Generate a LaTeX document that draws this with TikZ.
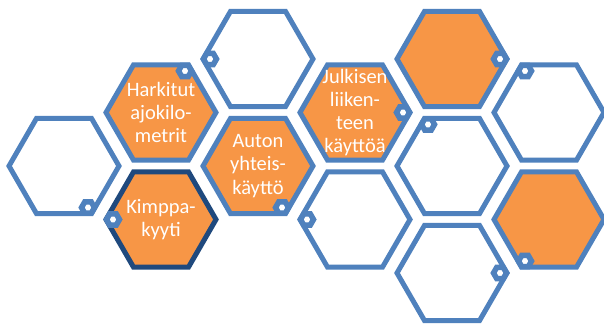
\documentclass[tikz,border=0pt]{standalone}
\usepackage{fontspec}
\setmainfont{Carlito}
\usetikzlibrary{shapes.geometric,calc}

\definecolor{hexblue}{HTML}{4F81BD}
\definecolor{hexdark}{HTML}{1F497D}
\definecolor{hexorange}{HTML}{F79646}

\begin{document}
\begin{tikzpicture}[x=1pt,y=1pt,
    hex/.style={regular polygon, regular polygon sides=6, minimum size=110pt,
      inner sep=0pt, line width=5pt, draw=hexblue, fill=white},
    hexfull/.style={hex, fill=hexorange},
    knob/.style={regular polygon, regular polygon sides=6, minimum size=13pt,
      inner sep=0pt, line width=5.5pt, draw=hexblue, fill=white},
    hexlabel/.style={text=white, align=center, inner sep=0pt,
      font=\fontsize{20.5}{23.3}\selectfont}]
  \useasboundingbox (0,0) rectangle (604,327);
  % Cluster of big hexagons
  \node[hex] (left) at (64,161) {};
  \node[hexfull] (harkitut) at (161,214.5) {};
  \node[hexfull, draw=hexdark] (kimppa) at (161,107.5) {};
  \node[hex] (top) at (258,268) {};
  \node[hexfull] (auton) at (258,161) {};
  \node[hexfull] (julkisen) at (355,214.5) {};
  \node[hex] (low) at (355,107.5) {};
  \node[hexfull] (topright) at (452,268) {};
  \node[hex] (mid) at (452,161) {};
  \node[hex] (bottom) at (452,54) {};
  \node[hex] (farright) at (549,214.5) {};
  \node[hexfull] (lowright) at (549,107.5) {};
  % Small knobs on the corners
  \node[knob] (leftKnob) at ($(left)+(-60:48)$) {};
  \node[knob] (harkitutKnob) at ($(harkitut)+(60:48)$) {};
  \node[knob] (kimppaKnob) at ($(kimppa)+(180:48)$) {};
  \node[knob] (topKnob) at ($(top)+(180:48)$) {};
  \node[knob] (autonKnob) at ($(auton)+(-60:48)$) {};
  \node[knob] (julkisenKnob) at ($(julkisen)+(0:48)$) {};
  \node[knob] (lowKnob) at ($(low)+(180:48)$) {};
  \node[knob] (toprightKnob) at ($(topright)+(0:48)$) {};
  \node[knob] (midKnob) at ($(mid)+(120:48)$) {};
  \node[knob] (bottomKnob) at ($(bottom)+(0:48)$) {};
  \node[knob] (farrightKnob) at ($(farright)+(120:48)$) {};
  \node[knob] (lowrightKnob) at ($(lowright)+(240:48)$) {};
  % Labels
  \node[hexlabel] (harkitutText) at (harkitut) {Harkitut\\ajokilo-\\metrit};
  \node[hexlabel] (kimppaText) at (kimppa) {Kimppa-\\kyyti};
  \node[hexlabel] (autonText) at (auton) {Auton\\yhteis-\\käyttö};
  \node[hexlabel] (julkisenText) at (julkisen) {Julkisen\\liiken-\\teen\\käyttöä};
\end{tikzpicture}
\end{document}
